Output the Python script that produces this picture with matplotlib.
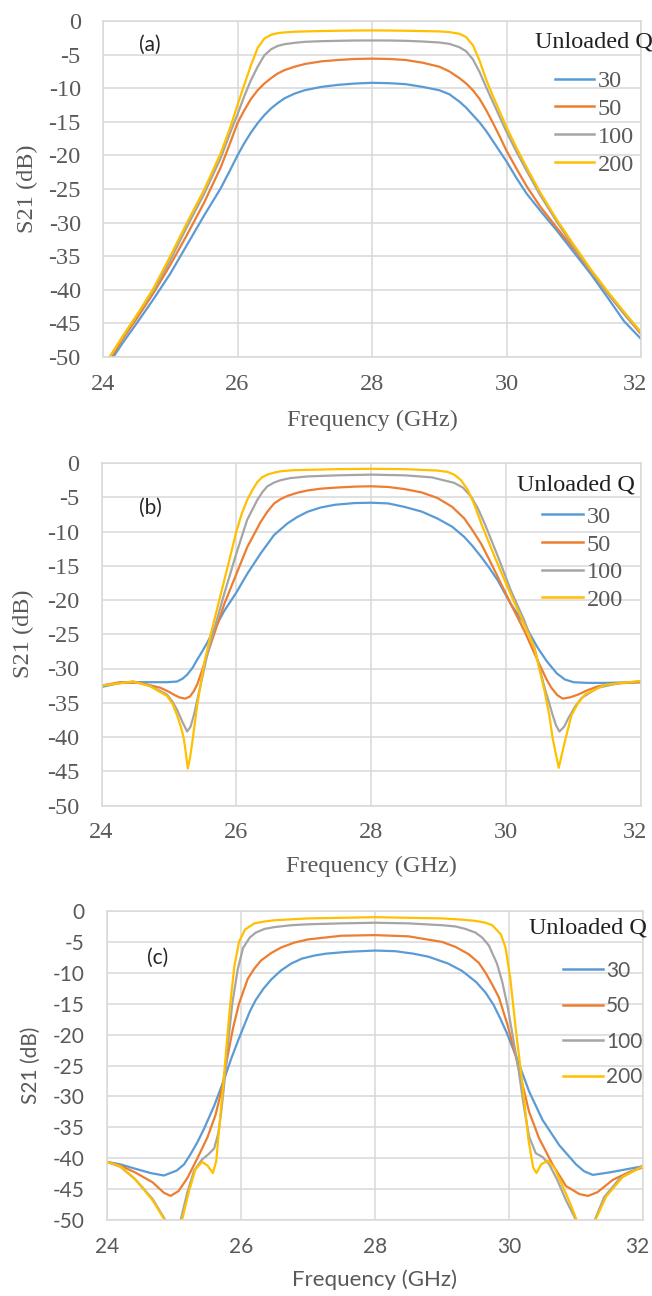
import matplotlib
matplotlib.use("Agg")
import matplotlib.pyplot as plt
from matplotlib.transforms import ScaledTranslation

# ---------------- data ----------------
Q_LABELS = ["30", "50", "100", "200"]
COLORS = ["#5B9BD5", "#ED7D31", "#A5A5A5", "#FFC000"]
X_TICKS = [24, 26, 28, 30, 32]
Y_TICKS = [0, -5, -10, -15, -20, -25, -30, -35, -40, -45, -50]

# panel (a)
freq_a = [24.1, 24.3, 24.5, 24.75, 25.0, 25.25, 25.5, 25.75, 25.9, 26.0, 26.1, 26.2,
          26.3, 26.4, 26.5, 26.6, 26.7, 26.85, 27.0, 27.25, 27.5, 27.75, 28.0, 28.25,
          28.5, 28.75, 29.0, 29.15, 29.3, 29.4, 29.5, 29.6, 29.7, 29.8, 29.9, 30.0,
          30.15, 30.3, 30.5, 30.75, 31.0, 31.25, 31.5, 31.75, 32.0]
a_q30 = [-50.8, -47.8, -45.0, -41.4, -37.6, -33.3, -29.0, -24.9, -22.0, -20.0, -18.2, -16.6,
         -15.2, -14.0, -13.0, -12.2, -11.5, -10.8, -10.3, -9.8, -9.5, -9.3, -9.2, -9.25,
         -9.4, -9.8, -10.3, -10.9, -12.0, -12.9, -14.0, -15.1, -16.4, -17.9, -19.4, -20.9,
         -23.4, -25.7, -28.2, -31.2, -34.4, -37.6, -41.1, -44.7, -47.3]
a_q50 = [-50.4, -47.2, -44.3, -40.5, -36.3, -31.8, -27.1, -21.8, -17.9, -15.2, -13.3, -11.6,
         -10.3, -9.3, -8.5, -7.8, -7.3, -6.8, -6.4, -6.0, -5.8, -5.65, -5.6, -5.65,
         -5.8, -6.2, -6.8, -7.5, -8.5, -9.3, -10.3, -11.6, -13.3, -15.2, -17.2, -19.3,
         -22.0, -24.6, -27.6, -30.8, -33.9, -37.2, -40.5, -43.6, -46.6]
a_q100 = [-50.0, -46.9, -43.9, -40.1, -35.6, -30.6, -25.8, -20.4, -16.4, -13.9, -11.2, -8.8,
          -6.8, -5.1, -4.2, -3.7, -3.45, -3.25, -3.1, -3.0, -2.95, -2.9, -2.9, -2.9,
          -2.95, -3.05, -3.2, -3.4, -3.9, -4.5, -5.7, -7.6, -9.9, -12.1, -14.3, -16.5,
          -19.5, -22.3, -25.9, -29.9, -33.6, -37.1, -40.4, -43.6, -46.5]
a_q200 = [-50.0, -46.8, -43.8, -39.8, -35.0, -30.0, -25.2, -19.7, -15.6, -12.5, -9.5, -6.6,
          -4.0, -2.6, -2.05, -1.8, -1.7, -1.6, -1.55, -1.5, -1.45, -1.42, -1.4, -1.42,
          -1.45, -1.5, -1.55, -1.65, -1.9, -2.4, -3.6, -5.9, -8.8, -11.2, -13.5, -15.8,
          -18.9, -21.8, -25.5, -29.6, -33.3, -36.9, -40.2, -43.3, -46.3]

# panel (b)
b_f30 = [24.0, 24.27, 24.57, 24.97, 25.12, 25.2, 25.27, 25.35, 25.42, 25.5, 25.57, 25.67,
         25.82, 26.0, 26.16, 26.36, 26.56, 26.76, 26.9, 27.06, 27.25, 27.46, 27.75, 28.0,
         28.25, 28.49, 28.75, 28.98, 29.2, 29.38, 29.5, 29.63, 29.75, 29.88, 30.07, 30.27,
         30.47, 30.6, 30.75, 30.87, 31.0, 31.2, 31.46, 32.0]
b_q30 = [-32.7, -32.1, -32.0, -32.0, -31.9, -31.5, -30.9, -29.9, -28.7, -27.4, -26.2, -24.3,
         -21.6, -18.9, -16.2, -13.2, -10.5, -8.8, -7.9, -7.1, -6.5, -6.1, -5.85, -5.8,
         -5.9, -6.4, -7.1, -8.1, -9.3, -10.8, -12.1, -13.7, -15.3, -17.2, -20.6, -23.5,
         -27.0, -28.9, -30.7, -31.6, -32.0, -32.1, -32.1, -32.0]
b_f50 = [24.0, 24.27, 24.57, 24.87, 25.0, 25.07, 25.15, 25.24, 25.31, 25.37, 25.42, 25.47,
         25.57, 25.67, 25.82, 26.0, 26.16, 26.36, 26.46, 26.56, 26.66, 26.76, 26.9, 27.06,
         27.25, 27.46, 27.75, 28.0, 28.25, 28.49, 28.75, 28.98, 29.2, 29.38, 29.5, 29.63,
         29.75, 29.88, 30.07, 30.27, 30.47, 30.6, 30.67, 30.76, 30.84, 30.95, 31.07, 31.2,
         31.36, 31.6, 32.0]
b_q50 = [-32.5, -32.0, -32.1, -32.8, -33.4, -33.8, -34.2, -34.4, -34.1, -33.3, -32.3, -30.9,
         -27.9, -25.0, -20.6, -16.2, -12.3, -8.6, -7.1, -5.9, -5.25, -4.8, -4.35, -4.0,
         -3.75, -3.6, -3.45, -3.4, -3.5, -3.8, -4.3, -5.1, -6.4, -8.1, -9.8, -11.8,
         -14.1, -16.7, -20.6, -24.5, -28.9, -31.6, -32.8, -33.9, -34.4, -34.2, -33.8, -33.2,
         -32.6, -32.2, -32.0]
b_f100 = [24.0, 24.47, 24.72, 24.97, 25.05, 25.12, 25.2, 25.27, 25.32, 25.37, 25.42, 25.47,
          25.57, 25.67, 25.82, 26.0, 26.16, 26.31, 26.39, 26.46, 26.56, 26.66, 26.8, 27.06,
          27.5, 28.0, 28.5, 28.9, 29.23, 29.36, 29.48, 29.58, 29.68, 29.88, 30.07, 30.27,
          30.42, 30.57, 30.64, 30.69, 30.74, 30.79, 30.86, 30.92, 31.02, 31.12, 31.36, 31.7,
          32.0]
b_q100 = [-32.5, -31.9, -32.5, -33.8, -34.8, -36.0, -37.8, -39.2, -38.5, -36.8, -34.6, -32.4,
          -27.9, -24.3, -19.1, -13.2, -8.3, -5.4, -4.2, -3.4, -2.85, -2.5, -2.2, -1.96,
          -1.8, -1.7, -1.8, -2.1, -2.9, -3.6, -4.9, -6.6, -8.8, -13.7, -18.6, -23.0,
          -27.0, -32.8, -35.1, -36.8, -38.3, -39.2, -38.5, -37.3, -35.6, -34.3, -32.8, -32.1,
          -31.9]
b_f200 = [24.0, 24.47, 24.72, 24.97, 25.05, 25.12, 25.18, 25.22, 25.25, 25.28, 25.31, 25.34,
          25.38, 25.42, 25.52, 25.62, 25.77, 25.92, 26.0, 26.08, 26.16, 26.24, 26.31, 26.38,
          26.46, 26.56, 26.66, 26.85, 27.06, 27.5, 28.0, 28.5, 28.98, 29.13, 29.23, 29.33,
          29.43, 29.53, 29.63, 29.83, 30.02, 30.22, 30.42, 30.57, 30.64, 30.69, 30.74, 30.78,
          30.82, 30.87, 30.97, 31.07, 31.17, 31.46, 32.0]
b_q200 = [-32.5, -31.9, -32.6, -34.0, -35.1, -36.8, -38.6, -40.2, -42.3, -44.6, -43.2, -41.2,
          -38.3, -35.3, -29.4, -25.0, -19.1, -13.2, -10.0, -7.4, -5.4, -3.9, -2.8, -2.1,
          -1.7, -1.4, -1.2, -1.05, -1.0, -0.9, -0.85, -0.9, -1.1, -1.3, -1.7, -2.5,
          -3.9, -6.1, -8.8, -13.7, -18.1, -22.5, -27.0, -33.3, -36.8, -40.2, -42.6, -44.5,
          -42.8, -40.7, -36.8, -35.0, -33.8, -32.4, -31.8]

# panel (c)
c_f30 = [24.0, 24.2, 24.42, 24.65, 24.85, 25.04, 25.15, 25.25, 25.35, 25.45, 25.6, 25.74,
         25.85, 25.97, 26.13, 26.22, 26.34, 26.45, 26.6, 26.75, 26.91, 27.1, 27.27, 27.6,
         28.0, 28.3, 28.57, 28.8, 29.09, 29.3, 29.51, 29.65, 29.77, 29.87, 29.97, 30.13,
         30.3, 30.5, 30.75, 31.0, 31.12, 31.25, 31.5, 31.8, 32.0]
c_q30 = [-40.6, -41.0, -41.7, -42.4, -42.8, -42.0, -41.0, -39.3, -37.4, -35.2, -31.5, -27.5,
         -24.0, -20.6, -16.3, -14.4, -12.5, -11.1, -9.6, -8.5, -7.7, -7.2, -6.9, -6.6,
         -6.4, -6.5, -6.9, -7.4, -8.5, -9.7, -11.5, -13.2, -15.2, -17.4, -19.8, -24.2,
         -29.2, -33.8, -37.9, -41.0, -42.1, -42.7, -42.3, -41.7, -41.3]
c_f50 = [24.0, 24.2, 24.42, 24.68, 24.85, 24.95, 25.07, 25.2, 25.35, 25.5, 25.62, 25.72,
         25.8, 25.88, 25.97, 26.1, 26.2, 26.3, 26.45, 26.6, 26.8, 27.0, 27.5, 28.0,
         28.5, 29.0, 29.2, 29.4, 29.55, 29.65, 29.75, 29.85, 29.98, 30.1, 30.2, 30.3,
         30.45, 30.65, 30.85, 31.05, 31.18, 31.32, 31.55, 31.8, 32.0]
c_q50 = [-40.6, -41.2, -42.3, -43.9, -45.6, -46.1, -45.3, -43.2, -40.0, -36.6, -33.0, -28.5,
         -23.5, -19.0, -15.0, -11.0, -9.3, -8.0, -6.8, -5.9, -5.1, -4.6, -4.0, -3.9,
         -4.1, -5.0, -5.8, -7.0, -8.4, -10.0, -11.9, -14.0, -18.5, -23.5, -28.0, -32.5,
         -36.8, -41.0, -44.5, -45.8, -46.1, -45.5, -43.5, -42.2, -41.5]
c_f100 = [24.0, 24.2, 24.42, 24.68, 24.87, 24.98, 25.1, 25.2, 25.3, 25.42, 25.52, 25.6,
          25.66, 25.7, 25.74, 25.8, 25.87, 25.95, 26.03, 26.13, 26.22, 26.35, 26.5, 26.75,
          27.0, 27.5, 28.0, 28.5, 29.0, 29.2, 29.35, 29.5, 29.6, 29.7, 29.82, 29.9,
          29.98, 30.06, 30.14, 30.22, 30.3, 30.4, 30.5, 30.6, 30.72, 30.85, 31.0, 31.14,
          31.28, 31.42, 31.65, 32.0]
c_q100 = [-40.6, -41.4, -43.4, -46.6, -50.0, -53.0, -50.0, -45.5, -42.0, -40.2, -39.3, -38.4,
          -36.0, -33.0, -29.0, -22.0, -15.0, -9.5, -6.0, -4.3, -3.5, -2.9, -2.6, -2.3,
          -2.15, -2.0, -1.9, -2.0, -2.3, -2.5, -2.9, -3.5, -4.3, -5.6, -8.5, -11.5,
          -15.5, -20.5, -25.5, -31.5, -36.5, -39.2, -39.8, -41.0, -43.5, -46.8, -50.0, -53.0,
          -50.0, -46.3, -43.3, -41.2]
c_f200 = [24.0, 24.2, 24.42, 24.68, 24.86, 24.98, 25.12, 25.22, 25.32, 25.42, 25.5, 25.58,
          25.63, 25.68, 25.74, 25.79, 25.84, 25.9, 25.97, 26.06, 26.2, 26.35, 26.5, 27.0,
          27.5, 28.0, 28.5, 29.0, 29.3, 29.5, 29.65, 29.75, 29.88, 29.95, 30.02, 30.1,
          30.2, 30.29, 30.36, 30.41, 30.48, 30.58, 30.68, 30.8, 30.92, 31.01, 31.15, 31.29,
          31.45, 31.7, 32.0]
c_q200 = [-40.6, -41.3, -43.4, -46.8, -50.0, -54.0, -50.0, -45.5, -41.8, -40.6, -41.2, -42.4,
          -40.5, -34.5, -27.5, -21.0, -15.0, -9.0, -5.0, -3.0, -2.0, -1.7, -1.5, -1.2,
          -1.1, -1.0, -1.1, -1.2, -1.4, -1.6, -1.9, -2.3, -3.8, -6.0, -11.0, -19.0,
          -28.0, -37.0, -41.5, -42.4, -41.0, -40.4, -41.6, -44.5, -47.5, -50.0, -54.0, -50.0,
          -46.2, -43.0, -41.3]

# ---------------- styling ----------------
W, H = 652, 1296
SERIF = "Liberation Serif"
SANS = "Lato"
TICK_COLOR = "#595959"
GRID_COLOR = "#D9D9D9"

fig = plt.figure(figsize=(W / 100, H / 100), dpi=100)


def px_axes(left, right, top, bottom):
    return fig.add_axes([left / W, 1 - bottom / H, (right - left) / W, (bottom - top) / H])


panels = [
    dict(box=(103, 641, 21, 357), tag="(a)", tagxy=(0.087, 0.929), font=SERIF, fs=17.5,
         xlfs=17.5, legfont=SERIF, legfs=17.5, leg_anchor=(0.840, 0.854), legspace=0.24,
         hl=1.6, title_xy=(0.913, 0.9375), ylab=(27, 189), xlab=(372, 420),
         series=[(freq_a, a_q30), (freq_a, a_q50), (freq_a, a_q100), (freq_a, a_q200)]),
    dict(box=(101.5, 641, 463, 805.5), tag="(b)", tagxy=(0.090, 0.869), font=SERIF, fs=17.5,
         xlfs=17.5, legfont=SERIF, legfs=17.5, leg_anchor=(0.8165, 0.8745), legspace=0.23,
         hl=1.7, title_xy=(0.880, 0.936), ylab=(23, 634), xlab=(371, 866),
         series=[(b_f30, b_q30), (b_f50, b_q50), (b_f100, b_q100), (b_f200, b_q200)]),
    dict(box=(107, 643, 911, 1220), tag="(c)", tagxy=(0.095, 0.848), font=SANS, fs=15,
         xlfs=16, legfont=SANS, legfs=15, leg_anchor=(0.851, 0.839), legspace=0.74,
         hl=1.9, title_xy=(0.897, 0.945), ylab=(31, 1065), xlab=(374, 1280),
         series=[(c_f30, c_q30), (c_f50, c_q50), (c_f100, c_q100), (c_f200, c_q200)]),
]

for p in panels:
    ax = px_axes(*p["box"])
    for (fx, fy), col, lab in zip(p["series"], COLORS, Q_LABELS):
        ax.plot(fx, fy, color=col, lw=1.6, label=lab, solid_joinstyle="round")
    ax.set_xlim(24, 32)
    ax.set_ylim(-50, 0)
    ax.set_xticks(X_TICKS)
    ax.set_yticks(Y_TICKS)
    ax.set_xticklabels([str(t) for t in X_TICKS])
    ax.set_yticklabels([str(t) for t in Y_TICKS])
    ax.grid(True, color=GRID_COLOR, lw=1.1)
    ax.set_axisbelow(True)
    for s in ax.spines.values():
        s.set_color(GRID_COLOR)
        s.set_linewidth(1.1)
    ax.tick_params(axis="both", length=0, colors=TICK_COLOR, labelsize=p["fs"])
    ax.tick_params(axis="y", pad=16)
    ax.tick_params(axis="x", pad=12)
    for t in ax.get_xticklabels() + ax.get_yticklabels():
        t.set_fontfamily(p["font"])
    last = ax.get_xticklabels()[-1]
    last.set_transform(last.get_transform() + ScaledTranslation(-0.06, 0, fig.dpi_scale_trans))

    ax.text(*p["tagxy"], p["tag"], transform=ax.transAxes, ha="center", va="center",
            fontsize=15, family=SANS, color="#262626")

    leg = ax.legend(loc="upper left", bbox_to_anchor=p["leg_anchor"], frameon=False,
                    borderpad=0, borderaxespad=0, handlelength=p["hl"], handletextpad=0.15,
                    labelspacing=p["legspace"],
                    prop={"family": p["legfont"], "size": p["legfs"]})
    for t in leg.get_texts():
        t.set_color(TICK_COLOR)
    for h in leg.get_lines():
        h.set_linewidth(1.8)
    ax.text(*p["title_xy"], "Unloaded Q", transform=ax.transAxes, ha="center", va="center",
            fontsize=17.5, family=SERIF, color="#1F1F1F")

    fig.text(p["ylab"][0] / W, 1 - p["ylab"][1] / H, "S21 (dB)", rotation=90,
             ha="center", va="center", fontsize=p["fs"], family=p["font"], color=TICK_COLOR)
    fig.text(p["xlab"][0] / W, 1 - p["xlab"][1] / H, "Frequency (GHz)",
             ha="center", va="center", fontsize=p["xlfs"], family=p["font"], color=TICK_COLOR)

fig.savefig("out.png", dpi=100)
